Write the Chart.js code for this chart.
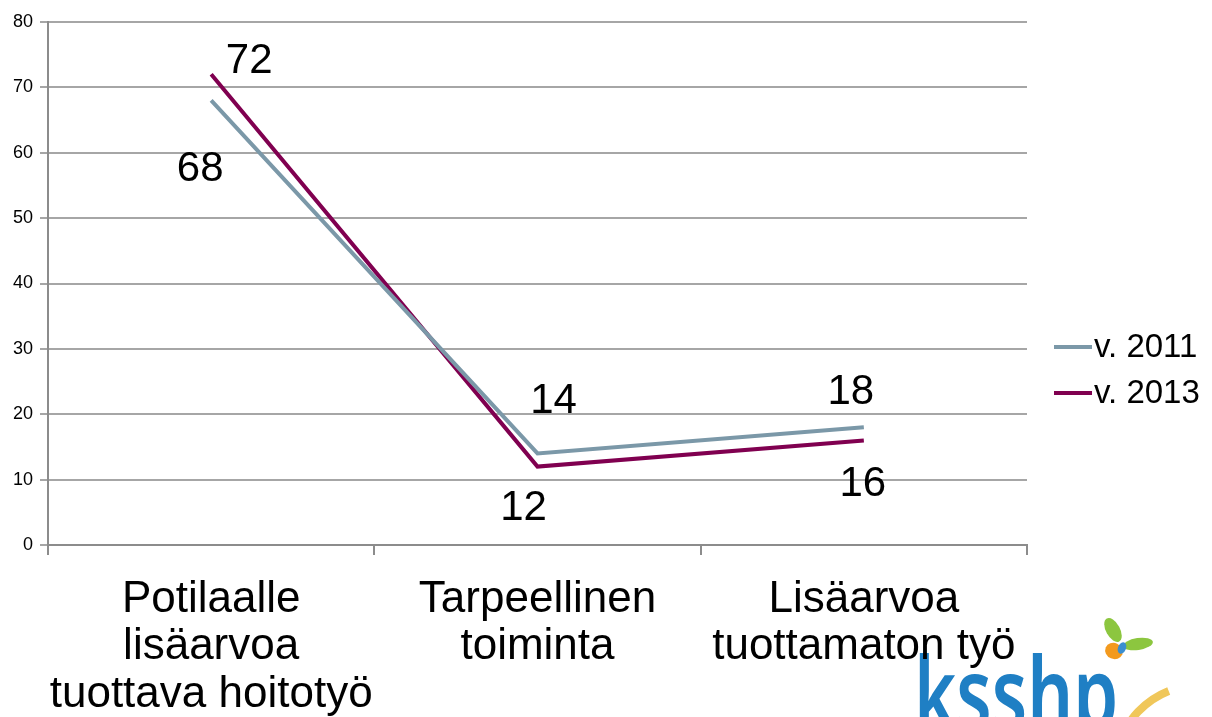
<!DOCTYPE html>
<html>
<head>
<meta charset="utf-8">
<script src="https://cdn.jsdelivr.net/npm/chart.js@4.4.1/dist/chart.umd.min.js"></script>
<style>
    html, body { margin: 0; padding: 0; background: #fff; }
    #wrap { width: 1212px; height: 717px; position: relative; }
</style>
</head>
<body>
<div id="wrap"><canvas id="grafico" width="1212" height="717"></canvas></div>
<script>
var categorias = [
    ['Potilaalle', 'lisäarvoa', 'tuottava hoitotyö'],
    ['Tarpeellinen', 'toiminta'],
    ['Lisäarvoa', 'tuottamaton työ']
];
var series = ['v. 2011', 'v. 2013'];
var valores2011 = [68, 14, 18];
var valores2013 = [72, 12, 16];
var ticksY = [0, 10, 20, 30, 40, 50, 60, 70, 80];

var colores = ['#7b98a8', '#800050'];

// desplazamiento de cada etiqueta respecto a su punto
var desplazamientos = [
    [[-11, 69], [16, -52], [-13, -35]],
    [[38, -13], [-14, 42], [-1, 44]]
];

var etiquetasPlugin = {
    id: 'etiquetas',
    afterDatasetsDraw: function(chart) {
        var ctx = chart.ctx;
        ctx.save();
        ctx.font = '42px "Liberation Sans", Arial, sans-serif';
        ctx.fillStyle = '#000';
        ctx.textAlign = 'center';
        ctx.textBaseline = 'middle';
        chart.data.datasets.forEach(function(ds, i) {
            var meta = chart.getDatasetMeta(i);
            meta.data.forEach(function(p, j) {
                var d = desplazamientos[i][j];
                ctx.fillText(String(ds.data[j]), p.x + d[0], p.y + d[1]);
            });
        });
        ctx.restore();
    }
};

var leyendaPlugin = {
    id: 'leyenda',
    afterDraw: function(chart) {
        var ctx = chart.ctx;
        ctx.save();
        ctx.font = '33px "Liberation Sans", Arial, sans-serif';
        ctx.textAlign = 'left';
        ctx.textBaseline = 'middle';
        chart.data.datasets.forEach(function(ds, i) {
            var y = 347 + i * 46;
            ctx.strokeStyle = ds.borderColor;
            ctx.lineWidth = 4;
            ctx.beginPath();
            ctx.moveTo(1054, y);
            ctx.lineTo(1092, y);
            ctx.stroke();
            ctx.fillStyle = '#000';
            ctx.fillText(ds.label, 1094, y + 1);
        });
        ctx.restore();
    }
};

var logoPlugin = {
    id: 'logo',
    beforeDraw: function(chart) {
        var ctx = chart.ctx;
        ctx.save();
        // arco dorado
        ctx.strokeStyle = '#f0c75a';
        ctx.lineWidth = 8;
        ctx.beginPath();
        ctx.arc(1200, 770, 85, Math.PI * 1.1, Math.PI * 1.38);
        ctx.stroke();
        // texto del logo
        ctx.translate(914, 730);
        ctx.scale(1, 1.4);
        ctx.font = '600 72px "Noto Sans", sans-serif';
        ctx.fillStyle = '#1f7fc4';
        ctx.textBaseline = 'alphabetic';
        ctx.fillText('ksshp', 0, 0);
        ctx.restore();

        // mariposa
        ctx.save();
        ctx.fillStyle = '#8cc63f';
        ctx.beginPath();
        ctx.ellipse(1113, 630, 7, 13, -0.5, 0, Math.PI * 2);
        ctx.fill();
        ctx.beginPath();
        ctx.ellipse(1138, 644, 15, 6, -0.15, 0, Math.PI * 2);
        ctx.fill();
        ctx.fillStyle = '#f39a1e';
        ctx.beginPath();
        ctx.ellipse(1114, 651, 9, 8, 0.4, 0, Math.PI * 2);
        ctx.fill();
        ctx.fillStyle = '#3b8fd0';
        ctx.beginPath();
        ctx.ellipse(1122, 648, 4, 6, 0.4, 0, Math.PI * 2);
        ctx.fill();
        ctx.restore();
    }
};

var ctx = document.getElementById('grafico').getContext('2d');
var chart = new Chart(ctx, {
    type: 'line',
    data: {
        labels: categorias,
        datasets: [{
            label: series[0],
            data: valores2011,
            borderColor: colores[0],
            backgroundColor: colores[0],
            borderWidth: 4,
            pointRadius: 0,
            tension: 0
        }, {
            label: series[1],
            data: valores2013,
            borderColor: colores[1],
            backgroundColor: colores[1],
            borderWidth: 4,
            pointRadius: 0,
            tension: 0
        }]
    },
    options: {
        responsive: false,
        animation: false,
        layout: {
            padding: { top: 22, right: 185, left: 0, bottom: 0 }
        },
        plugins: {
            legend: { display: false },
            tooltip: { enabled: false },
            title: { display: false }
        },
        scales: {
            x: {
                offset: true,
                grid: {
                    offset: true,
                    display: true,
                    drawOnChartArea: false,
                    tickLength: 10,
                    color: '#8c8c8c',
                    lineWidth: 2
                },
                border: { color: '#8c8c8c', width: 2 },
                ticks: {
                    color: '#000',
                    padding: 21,
                    maxRotation: 0,
                    autoSkip: false,
                    font: { family: '"Liberation Sans", Arial, sans-serif', size: 44, lineHeight: 1.08 }
                },
                afterFit: function(scale) { scale.height = 172; }
            },
            y: {
                min: 0,
                max: 80,
                afterBuildTicks: function(scale) {
                    scale.ticks = ticksY.map(function(v) { return { value: v }; });
                },
                grid: {
                    color: '#a6a6a6',
                    lineWidth: 2,
                    tickLength: 8
                },
                border: { color: '#8c8c8c', width: 2 },
                ticks: {
                    color: '#000',
                    padding: 7,
                    font: { family: '"Liberation Sans", Arial, sans-serif', size: 18 }
                },
                afterFit: function(scale) { scale.width = 48; }
            }
        }
    },
    plugins: [etiquetasPlugin, leyendaPlugin, logoPlugin]
});
</script>
</body>
</html>
